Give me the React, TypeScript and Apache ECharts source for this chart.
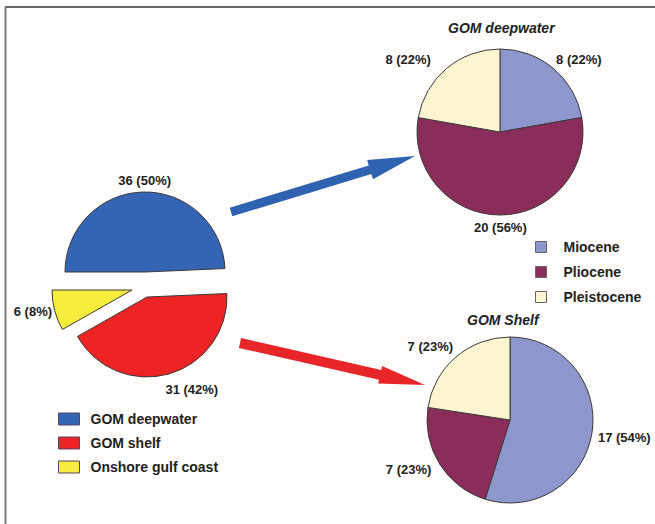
import React, { useEffect, useRef } from "react";
import * as echarts from "echarts";

const leftNames = ["GOM deepwater", "GOM shelf", "Onshore gulf coast"];
const leftValues = [36, 31, 6];
const leftPercents = [50, 42, 8];
const leftColors = ["#3464b4", "#ee2424", "#f8ec3c"];

const epochNames = ["Miocene", "Pliocene", "Pleistocene"];
const deepValues = [8, 20, 8];
const deepPercents = [22, 56, 22];
const shelfValues = [17, 7, 7];
const shelfPercents = [54, 23, 23];
const epochColors = ["#8d97cb", "#8b2d5a", "#fdf5cf"];

const titles = ["GOM deepwater", "GOM Shelf"];

const FONT = "'Liberation Sans', Arial, Helvetica, sans-serif";
const BORDER = "#3a3a3a";

function arrow(x1: number, y1: number, x2: number, y2: number, sw: number, hw: number, hl: number) {
  const dx = x2 - x1, dy = y2 - y1;
  const L = Math.sqrt(dx * dx + dy * dy);
  const ux = dx / L, uy = dy / L;
  const nx = -uy, ny = ux;
  const bx = x2 - ux * hl, by = y2 - uy * hl;
  return [
    [x1 + nx * sw, y1 + ny * sw],
    [bx + nx * sw, by + ny * sw],
    [bx + nx * hw, by + ny * hw],
    [x2, y2],
    [bx - nx * hw, by - ny * hw],
    [bx - nx * sw, by - ny * sw],
    [x1 - nx * sw, y1 - ny * sw],
  ];
}

const labelText = {
  fontFamily: FONT,
  fontWeight: "bold" as const,
  fontSize: 13,
  color: "#222",
  width: 70,
  overflow: "none" as const,
};

function leftSeries(visible: number, center: number[], shift: number[]) {
  return {
    type: "pie",
    center,
    radius: 80,
    startAngle: 180,
    clockwise: true,
    silent: true,
    avoidLabelOverlap: false,
    emphasis: { disabled: true },
    label: {
      show: true,
      position: "outside",
      ...labelText,
      formatter: (p: any) => `${p.value} (${leftPercents[p.dataIndex]}%)`,
    },
    labelLine: { show: false, length: 12, length2: 0 },
    labelLayout: () => ({ dx: shift[0], dy: shift[1] }),
    data: leftNames.map((n, i) => ({
      name: n,
      value: leftValues[i],
      itemStyle:
        i === visible
          ? { color: leftColors[i], borderColor: BORDER, borderWidth: 1 }
          : { color: "rgba(0,0,0,0)", borderWidth: 0 },
      label: { show: i === visible },
    })),
  };
}

function epochSeries(values: number[], pcts: number[], center: number[], shifts: number[][]) {
  return {
    type: "pie",
    center,
    radius: 83,
    startAngle: 90,
    clockwise: true,
    silent: true,
    avoidLabelOverlap: false,
    emphasis: { disabled: true },
    label: {
      show: true,
      position: "outside",
      ...labelText,
      formatter: (p: any) => `${p.value} (${pcts[p.dataIndex]}%)`,
    },
    labelLine: { show: false, length: 12, length2: 0 },
    labelLayout: (p: any) => ({ dx: shifts[p.dataIndex][0], dy: shifts[p.dataIndex][1] }),
    itemStyle: { borderColor: BORDER, borderWidth: 1 },
    data: epochNames.map((n, i) => ({
      name: n,
      value: values[i],
      itemStyle: { color: epochColors[i] },
    })),
  };
}

export default function App() {
  const ref = useRef<HTMLDivElement>(null);
  useEffect(() => {
    if (!ref.current) return;
    const chart = echarts.init(ref.current, null, { renderer: "svg" });
    const blueArrow = arrow(231, 212, 415, 156, 4.5, 10, 47);
    const redArrow = arrow(240, 343, 425, 385, 5, 9, 46);
    chart.setOption({
      animation: false,
      backgroundColor: "#fefdfc",
      title: [
        {
          text: titles[0],
          left: 448,
          top: 21,
          padding: 0,
          textStyle: { fontFamily: FONT, fontStyle: "italic", fontWeight: "bold", fontSize: 14, color: "#222" },
        },
        {
          text: titles[1],
          left: 467,
          top: 313,
          padding: 0,
          textStyle: { fontFamily: FONT, fontStyle: "italic", fontWeight: "bold", fontSize: 14, color: "#222" },
        },
      ],
      legend: [
        {
          orient: "vertical",
          left: 58,
          top: 412,
          padding: 0,
          itemWidth: 21,
          itemHeight: 12,
          itemGap: 10,
          icon: "rect",
          selectedMode: false,
          textStyle: { fontFamily: FONT, fontWeight: "bold", fontSize: 14, color: "#222", padding: [0, 0, 0, 6] },
          data: leftNames.map((n, i) => ({
            name: n,
            itemStyle: { color: leftColors[i], borderColor: "#554466", borderWidth: 1 },
          })),
        },
        {
          orient: "vertical",
          left: 535,
          top: 240,
          padding: 0,
          itemWidth: 11,
          itemHeight: 11,
          itemGap: 11,
          icon: "rect",
          selectedMode: false,
          textStyle: { fontFamily: FONT, fontWeight: "bold", fontSize: 14, color: "#222", padding: [0, 0, 0, 12] },
          data: epochNames.map((n, i) => ({
            name: n,
            itemStyle: { color: epochColors[i], borderColor: "#666", borderWidth: 1 },
          })),
        },
      ],
      graphic: [
        { type: "line", shape: { x1: 5, y1: 7, x2: 655, y2: 7 }, style: { stroke: "#333", lineWidth: 1.5 } },
        { type: "line", shape: { x1: 5.5, y1: 7, x2: 5.5, y2: 524 }, style: { stroke: "#777", lineWidth: 2 } },
        { type: "polygon", shape: { points: blueArrow }, style: { fill: "#2f62b0" } },
        { type: "polygon", shape: { points: redArrow }, style: { fill: "#e8262a" } },
      ],
      series: [
        leftSeries(0, [145, 272], [33, 0]),
        leftSeries(1, [147, 297], [-12, 4]),
        leftSeries(2, [132, 290], [14, -2]),
        epochSeries(deepValues, deepPercents, [500, 132], [[-10, 0], [-31, 0], [-3, 0]]),
        epochSeries(shelfValues, shelfPercents, [510, 420], [[-11, 3], [7, -1], [10, -1]]),
      ],
    });
    return () => chart.dispose();
  }, []);
  return <div ref={ref} style={{ position: "fixed", left: 0, top: 0, width: 655, height: 524 }} />;
}
